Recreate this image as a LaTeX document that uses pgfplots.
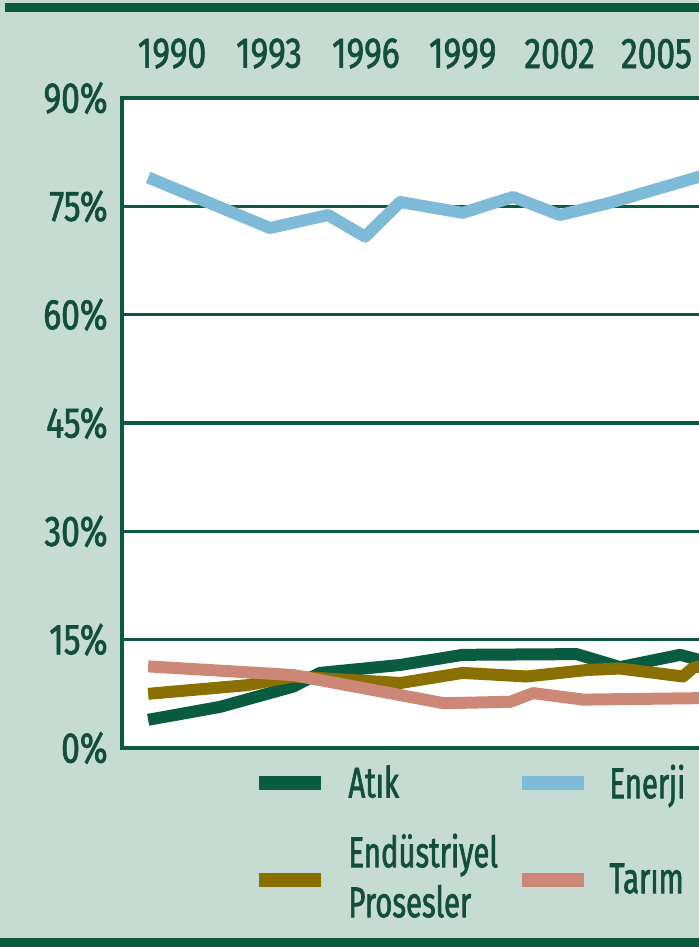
\documentclass[border=0pt]{standalone}
\usepackage{pgfplots}
\pgfplotsset{compat=1.18}
\usepackage{fontspec}
\setmainfont{Fira Sans}[FakeStretch=0.68, FakeBold=1.5]
\newfontfamily\tickfont{Fira Sans}[FakeStretch=0.78, FakeBold=1.5]

\definecolor{bg}{HTML}{C6DBD2}
\definecolor{dkgreen}{HTML}{0B5A3E}
\definecolor{txtgreen}{HTML}{124F3A}
\definecolor{atik}{HTML}{0A5C40}
\definecolor{enerji}{HTML}{7DBBD8}
\definecolor{endus}{HTML}{8A7000}
\definecolor{tarim}{HTML}{CC8777}

\begin{document}
\begin{tikzpicture}
% page frame: 699x947 px at 0.5pt per px
\useasboundingbox (0,0) rectangle (349.5pt,473.5pt);
\clip (0,0) rectangle (349.5pt,473.5pt);
\fill[bg] (0,0) rectangle (349.5pt,473.5pt);
\fill[dkgreen] (2.5pt,467.5pt) rectangle (349.5pt,472pt);
\fill[dkgreen] (0,0) rectangle (349.5pt,4.5pt);

\begin{axis}[
  at={(61pt,99.5pt)}, anchor=south west,
  scale only axis, width=315.7pt, height=325pt,
  xmin=1988.45, xmax=2008, ymin=0, ymax=90,
  xtick={1990,1993,1996,1999,2002,2005},
  xticklabels={1990,1993,1996,1999,2002,2005},
  xticklabel pos=upper,
  ytick={0,15,30,45,60,75,90},
  yticklabels={0\%,15\%,30\%,45\%,60\%,75\%,90\%},
  ymajorgrids,
  grid style={dkgreen, line width=1.8pt},
  axis line style={dkgreen, line width=1.8pt},
  major tick length=0pt,
  tick label style={font=\tickfont\fontsize{21.5}{26}\selectfont, text=txtgreen, inner sep=0pt},
  yticklabel style={anchor=east, xshift=-7pt},
  xticklabel style={anchor=south, yshift=14.5pt},
  axis background/.style={fill=white},
  legend columns=2,
  legend style={at={(axis description cs:0.206,-0.025)}, anchor=north west,
    draw=none, fill=none, inner sep=0pt, row sep=15.5pt, column sep=0pt,
    font=\fontsize{21.5}{25}\selectfont, text=txtgreen,
    nodes={inner sep=0pt, anchor=west}},
  legend image code/.code={\draw[#1, line width=7pt, line cap=butt] (0pt,0pt) -- (31pt,0pt);},
  every axis plot/.append style={line width=6pt, line join=round},
]
\addplot[atik] coordinates {
  (1989.26,3.9) (1991.49,5.7) (1993.75,8.5) (1994.58,10.4) (1997.07,11.5)
  (1999.0,12.9) (2002.53,13.0) (2003.87,11.2) (2005.73,12.9) (2006.32,12.2) (2006.6,12.0)
};
\addlegendentry{\hspace*{10pt}\makebox[83.5pt][l]{Atık}}
\addplot[enerji] coordinates {
  (1989.26,79.0) (1993.03,72.0) (1994.83,73.8) (1995.98,70.8) (1997.06,75.6)
  (1999.0,74.1) (2000.56,76.3) (2002.01,73.8) (2003.56,75.5) (2006.32,79.1) (2006.6,79.5)
};
\addlegendentry{\hspace*{9pt}Enerji}
\addplot[endus] coordinates {
  (1989.26,7.5) (1992.32,8.7) (1993.75,9.9) (1997.07,9.0) (1999.0,10.4)
  (2000.98,9.9) (2002.84,10.8) (2003.87,11.0) (2005.82,9.9) (2006.13,11.1) (2006.6,11.5)
};
\addlegendentry{\hspace*{10pt}\makebox[83.5pt][l]{\raisebox{16pt}{\begin{tabular}{@{}l@{}}Endüstriyel\\Prosesler\end{tabular}}}}
\addplot[tarim] coordinates {
  (1989.26,11.3) (1993.75,10.1) (1998.41,6.2) (2000.47,6.4) (2001.18,7.6)
  (2002.73,6.7) (2006.32,6.9) (2006.6,6.9)
};
\addlegendentry{\hspace*{9pt}Tarım}
\end{axis}
\end{tikzpicture}
\end{document}
